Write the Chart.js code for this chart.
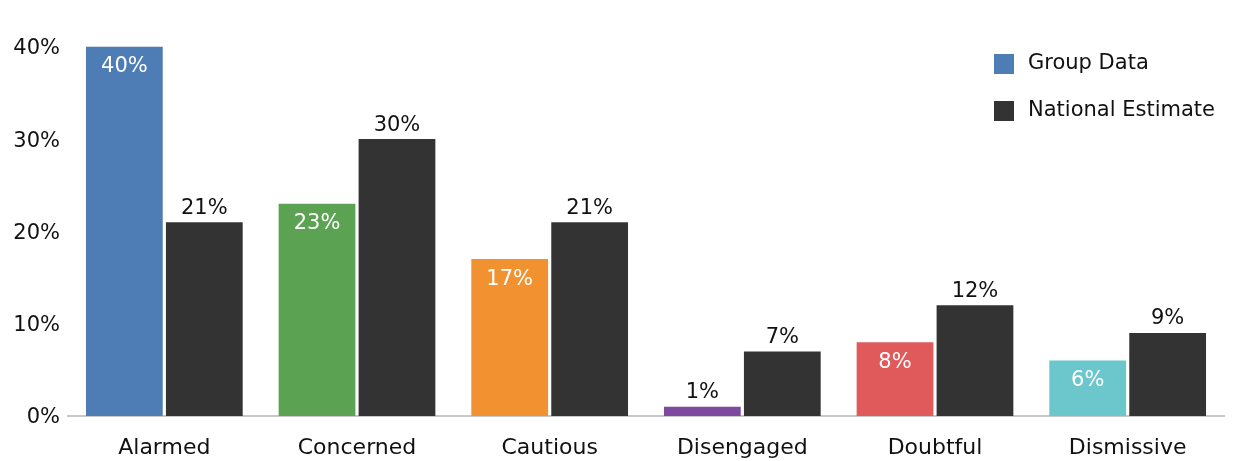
<!DOCTYPE html>
<html>
<head>
<meta charset="utf-8">
<script src="https://cdn.jsdelivr.net/npm/chart.js@4"></script>
<style>
  html, body { margin: 0; padding: 0; background: #ffffff; }
  #wrap { width: 1235px; height: 461px; position: relative; }
</style>
</head>
<body>
<div id="wrap"><canvas id="chart"></canvas></div>
<script>
// Segment categories and shares (percent)
const categories = ['Alarmed', 'Concerned', 'Cautious', 'Disengaged', 'Doubtful', 'Dismissive'];
const groupValues = [40, 23, 17, 1, 8, 6];
const nationalValues = [21, 30, 21, 7, 12, 9];
const yTicks = [0, 10, 20, 30, 40];

const segmentColors = ['#4E7DB5', '#5BA352', '#F2912F', '#7E4AA0', '#E0595B', '#6CC7CC'];
const nationalColor = '#333333';
const FONT = '"DejaVu Sans", "Noto Sans", sans-serif';

// Value labels: white inside the top of coloured bars, dark above the national bars
const valueLabels = {
  id: 'valueLabels',
  afterDatasetsDraw(chart) {
    const ctx = chart.ctx;
    ctx.save();
    ctx.font = '21px ' + FONT;
    ctx.textAlign = 'center';
    ctx.textBaseline = 'middle';
    chart.data.datasets.forEach((ds, di) => {
      const meta = chart.getDatasetMeta(di);
      meta.data.forEach((bar, i) => {
        const txt = ds.data[i] + '%';
        const h = bar.base - bar.y;
        if (di === 0 && h > 30) {
          ctx.fillStyle = '#ffffff';
          ctx.fillText(txt, bar.x, bar.y + 20);
        } else {
          ctx.fillStyle = '#111111';
          ctx.fillText(txt, bar.x, bar.y - 14);
        }
      });
    });
    ctx.restore();
  }
};

// Legend drawn inside the plot, at the upper right
const sideLegend = {
  id: 'sideLegend',
  afterDraw(chart) {
    const ctx = chart.ctx;
    const items = [
      { label: chart.data.datasets[0].label, color: segmentColors[0] },
      { label: chart.data.datasets[1].label, color: nationalColor }
    ];
    ctx.save();
    ctx.font = '21px ' + FONT;
    ctx.textAlign = 'left';
    ctx.textBaseline = 'middle';
    items.forEach((it, k) => {
      const cy = 64 + k * 47;
      ctx.fillStyle = it.color;
      ctx.fillRect(994, cy - 10, 20, 20);
      ctx.fillStyle = '#111111';
      ctx.fillText(it.label, 1028, cy);
    });
    ctx.restore();
  }
};

new Chart(document.getElementById('chart'), {
  type: 'bar',
  data: {
    labels: categories,
    datasets: [
      {
        label: 'Group Data',
        data: groupValues,
        backgroundColor: segmentColors,
        categoryPercentage: 0.83,
        barPercentage: 0.96
      },
      {
        label: 'National Estimate',
        data: nationalValues,
        backgroundColor: nationalColor,
        categoryPercentage: 0.83,
        barPercentage: 0.96
      }
    ]
  },
  options: {
    responsive: true,
    maintainAspectRatio: false,
    animation: false,
    layout: { padding: { top: 8, right: 11, left: 0, bottom: 0 } },
    plugins: {
      legend: { display: false },
      tooltip: { enabled: false }
    },
    scales: {
      x: {
        afterFit(scale) { scale.height = 45; },
        grid: { display: false, drawTicks: false },
        border: { display: true, color: '#c8c8c8', width: 2 },
        ticks: {
          color: '#111111',
          font: { family: FONT, size: 22 },
          padding: 19
        }
      },
      y: {
        min: 0,
        max: 44.2,
        afterFit(scale) {
          scale.width = 68;
          scale.paddingTop = 0;
          scale.paddingBottom = 0;
        },
        afterBuildTicks(scale) {
          scale.ticks = yTicks.map(v => ({ value: v }));
        },
        grid: { display: false, drawTicks: false },
        border: { display: false },
        ticks: {
          color: '#111111',
          font: { family: FONT, size: 21 },
          padding: 8,
          labelOffset: 2,
          callback: v => v + '%'
        }
      }
    }
  },
  plugins: [valueLabels, sideLegend]
});
</script>
</body>
</html>
